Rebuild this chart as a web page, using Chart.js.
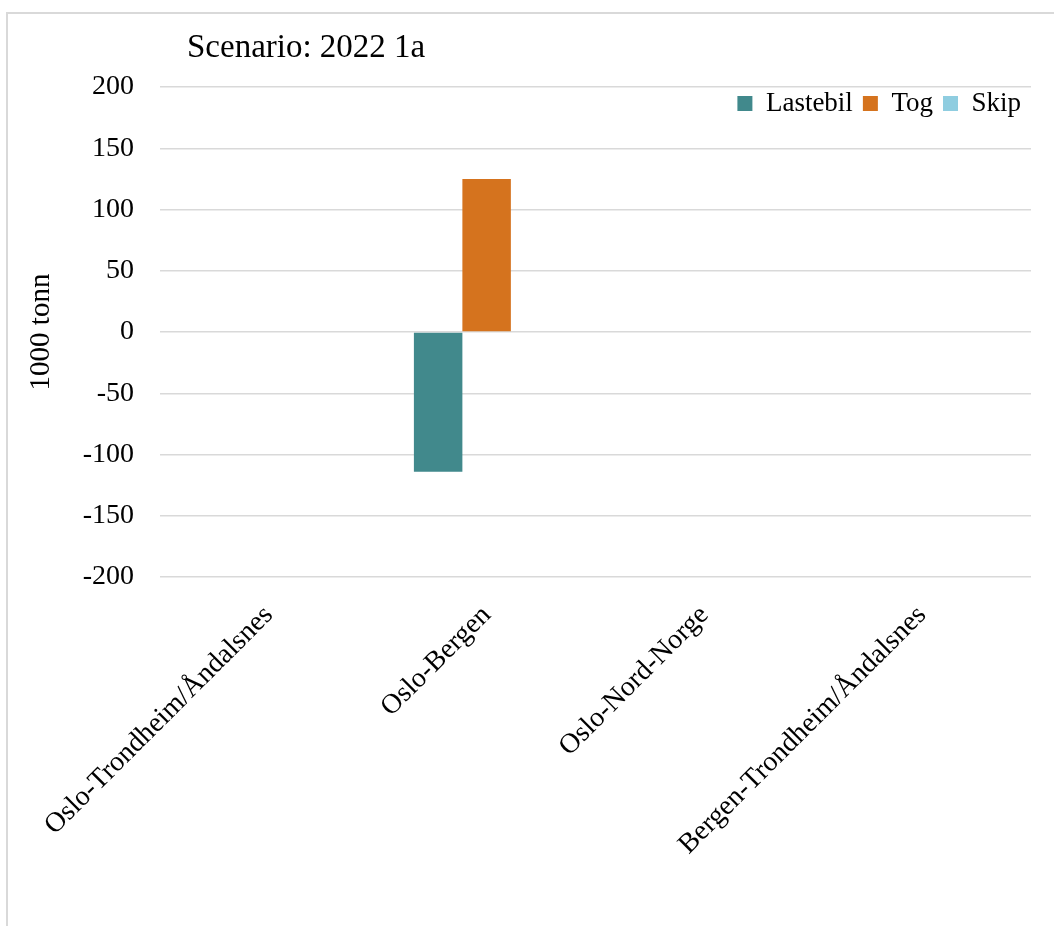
<!DOCTYPE html>
<html>
<head>
<meta charset="utf-8">
<script src="https://cdn.jsdelivr.net/npm/chart.js@4"></script>
<style>
  body { margin: 0; background: #fff; }
  #wrap { position: relative; width: 1054px; height: 926px; }
  #frame { position: absolute; left: 6px; top: 12px; right: 0; bottom: 0;
           border-left: 2px solid #d9d9d9; border-top: 2px solid #d9d9d9; }
  canvas { position: absolute; left: 0; top: 0; }
</style>
</head>
<body>
<div id="wrap">
  <div id="frame"></div>
  <canvas id="grafikoa" width="1054" height="926"></canvas>
</div>
<script>
const ruter = ['Oslo-Trondheim/Åndalsnes', 'Oslo-Bergen', 'Oslo-Nord-Norge', 'Bergen-Trondheim/Åndalsnes'];
const lastebil = [0, -114, 0, 0];
const tog = [0, 125, 0, 0];
const skip = [0, 0, 0, 0];
const yTicks = [-200, -150, -100, -50, 0, 50, 100, 150, 200];

const serif = "'Liberation Serif', 'Times New Roman', serif";

// scenario heading, drawn above the plot
const overskrift = {
  id: 'overskrift',
  afterDraw(chart) {
    const c = chart.ctx;
    c.save();
    c.font = '33px ' + serif;
    c.fillStyle = '#000';
    c.textBaseline = 'alphabetic';
    c.fillText('Scenario: 2022 1a', 187, 57);
    c.restore();
  }
};

// legend takes no layout space; move it inside the top of the plot area
const legendInne = {
  id: 'legendInne',
  afterLayout(chart) {
    const lg = chart.legend;
    if (!lg) return;
    lg.top = chart.chartArea.top - 7;
    lg.bottom = lg.top + 60;
  }
};

const data = {
  labels: ruter,
  datasets: [
    { label: 'Lastebil', data: lastebil, backgroundColor: '#41898c' },
    { label: 'Tog', data: tog, backgroundColor: '#d5731e' },
    { label: 'Skip', data: skip, backgroundColor: '#8fcde0' }
  ]
};

const config = {
  type: 'bar',
  data: data,
  options: {
    responsive: false,
    animation: false,
    layout: { padding: { top: 87, right: 23, left: 0, bottom: 0 } },
    datasets: { bar: { barPercentage: 1, categoryPercentage: 0.668 } },
    scales: {
      x: {
        grid: { display: false, drawTicks: false },
        border: { display: false },
        ticks: {
          minRotation: 45, maxRotation: 45, padding: 22,
          color: '#000', font: { family: serif, size: 28 }
        },
        afterFit(scale) { scale.height = 349; }
      },
      y: {
        min: -200, max: 200,
        afterBuildTicks(scale) { scale.ticks = yTicks.map(v => ({ value: v })); },
        grid: { color: '#d9d9d9', lineWidth: 1.5, drawTicks: false },
        border: { display: false },
        ticks: { padding: 26, color: '#000', font: { family: serif, size: 28 } },
        title: {
          display: true, text: '1000 tonn', color: '#000',
          font: { family: serif, size: 29 }, padding: { top: 24, bottom: 0 }
        },
        afterFit(scale) { scale.width = 160; }
      }
    },
    plugins: {
      legend: {
        position: 'top',
        align: 'end',
        fullSize: false,
        maxHeight: 0.001,
        labels: {
          boxWidth: 15, boxHeight: 15, padding: 10,
          color: '#000', font: { family: serif, size: 27 }
        }
      },
      tooltip: { enabled: false }
    }
  },
  plugins: [overskrift, legendInne]
};

const ctx = document.getElementById('grafikoa').getContext('2d');
new Chart(ctx, config);
</script>
</body>
</html>
